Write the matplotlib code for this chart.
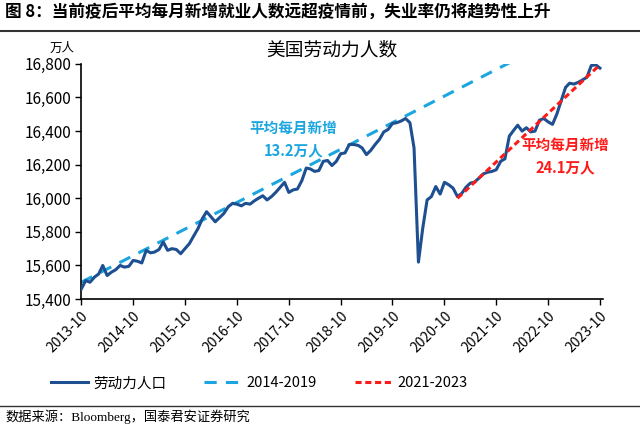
import matplotlib
matplotlib.use('Agg')
import matplotlib.pyplot as plt
import pandas as pd

plt.rcParams['font.family'] = ['Noto Sans CJK SC', 'DejaVu Sans']
plt.rcParams['axes.unicode_minus'] = False

# 美国劳动力人数（万人），2013-10 至 2023-10，月度
labor_force = [
    15460, 15510, 15500,
    15530, 15550, 15600, 15540, 15560, 15575, 15600, 15590, 15595, 15630, 15625, 15615,
    15690, 15675, 15680, 15695, 15740, 15690, 15700, 15695, 15670, 15700, 15730, 15775,
    15820, 15880, 15920, 15890, 15860, 15885, 15910, 15950, 15970, 15965, 15955, 15970,
    15965, 15985, 16000, 16015, 15990, 16010, 16035, 16065, 16095, 16035, 16050, 16055,
    16105, 16180, 16175, 16160, 16165, 16220, 16225, 16195, 16220, 16265, 16270, 16320,
    16320, 16315, 16300, 16260, 16285, 16320, 16350, 16395, 16410, 16445, 16450, 16460,
    16475, 16450, 16300, 15620, 15820, 15990, 16010, 16070, 16025, 16095, 16080, 16060,
    16010, 16030, 16065, 16090, 16096, 16120, 16145, 16155, 16160, 16170, 16220, 16235,
    16370, 16405, 16435, 16400, 16420, 16395, 16400, 16465, 16475, 16455, 16440, 16500,
    16580, 16660, 16685, 16680, 16690, 16705, 16720, 16790, 16795, 16775,
]
months = pd.date_range('2013-10-01', periods=len(labor_force), freq='MS')

# 趋势线端点
trend1_dates = pd.to_datetime(['2013-10-01', '2022-02-01'])
trend1_vals = [15500, 16820]
trend2_dates = pd.to_datetime(['2021-01-01', '2023-10-01'])
trend2_vals = [16000, 16795]

tick_dates = pd.date_range('2013-10-01', '2023-10-01', freq='12MS')
tick_labels = [d.strftime('%Y-%m') for d in tick_dates]
y_ticks = [15400, 15600, 15800, 16000, 16200, 16400, 16600, 16800]

navy = '#1D4F91'
sky = '#1BA6E0'
red = '#FF1A1A'

fig = plt.figure(figsize=(6.4, 4.26), dpi=100)
ax = fig.add_axes([0.1266, 0.298, 0.815, 0.552])

ax.plot(months, labor_force, color=navy, lw=2.2, label='劳动力人口', zorder=3)
ax.plot(trend1_dates, trend1_vals, color=sky, lw=2.2, ls=(0, (4, 3)), label='2014-2019', zorder=2)
ax.plot(trend2_dates, trend2_vals, color=red, lw=2.2, ls=(0, (2, 1.2)), label='2021-2023', zorder=4)

ax.set_ylim(15400, 16800)
ax.set_xlim(months[0] - pd.Timedelta(days=2), pd.Timestamp('2023-10-20'))
ax.set_yticks(y_ticks)
ax.set_yticklabels([f'{v:,}' for v in y_ticks], fontsize=11)
ax.set_xticks(tick_dates)
ax.set_xticklabels(tick_labels, rotation=45, ha='right', rotation_mode='anchor', fontsize=10)
for s in ['top', 'right']:
    ax.spines[s].set_visible(False)
ax.spines['left'].set_linewidth(1.2)
ax.spines['bottom'].set_linewidth(1.2)
ax.tick_params(axis='both', direction='out', length=4, width=1, pad=3)

ax.text(pd.Timestamp('2017-11-01'), 16350, '平均每月新增\n13.2万人', color=sky, fontsize=10.5,
        fontweight='bold', ha='center', va='center', linespacing=1.5)
ax.text(pd.Timestamp('2023-02-01'), 16250, '平均每月新增\n24.1万人', color=red, fontsize=10.5,
        fontweight='bold', ha='center', va='center', linespacing=1.5)

fig.text(0.518, 0.883, '美国劳动力人数', fontsize=13.5, ha='center', va='center')
fig.text(0.078, 0.887, '万人', fontsize=9, ha='left', va='center')

fig.text(0.008, 0.972, '图 8：当前疫后平均每月新增就业人数远超疫情前，失业率仍将趋势性上升',
         fontsize=12, fontweight='bold', ha='left', va='center')
fig.add_artist(plt.Line2D([0, 1], [0.928, 0.928], color='#333333', lw=1.5))

leg = fig.legend(loc='center', bbox_to_anchor=(0.405, 0.1), ncol=3, frameon=False,
                 fontsize=10.5, handlelength=2.5, columnspacing=2.6, handletextpad=0.4)

fig.add_artist(plt.Line2D([0, 1], [0.047, 0.047], color='#333333', lw=1))
fig.text(0.008, 0.022, '数据来源：Bloomberg，国泰君安证券研究', fontsize=9.5,
         family=['Liberation Serif', 'Noto Sans CJK SC'], ha='left', va='center')

fig.savefig('out.png', dpi=100)
